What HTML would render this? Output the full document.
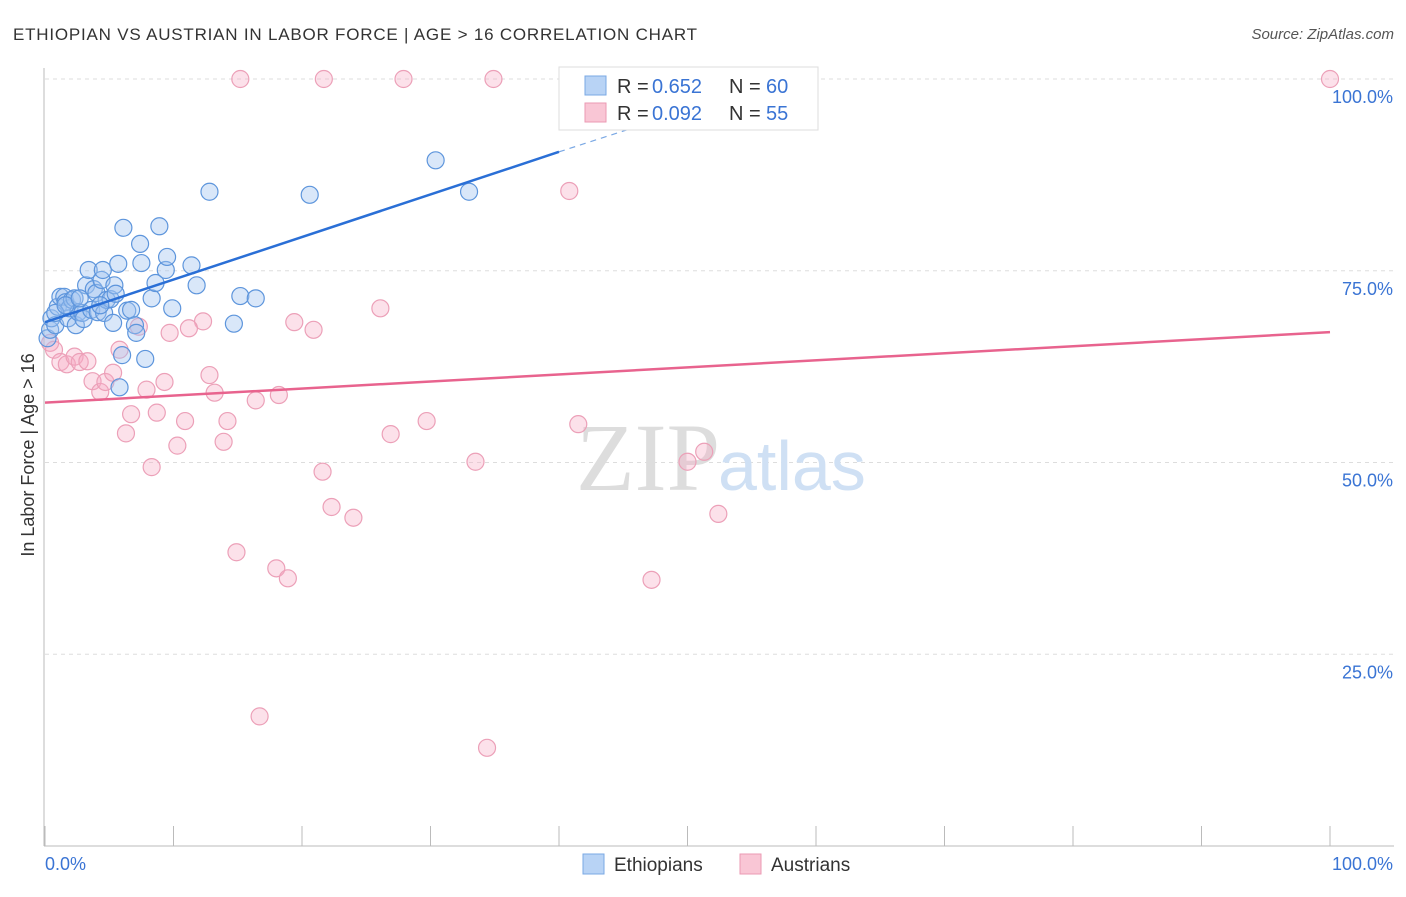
<!DOCTYPE html>
<html><head><meta charset="utf-8"><style>
body{margin:0;background:#fff;font-family:"Liberation Sans",sans-serif;}
</style></head><body>
<svg width="1406" height="892" xmlns="http://www.w3.org/2000/svg">
<text x="13" y="40" font-size="17" fill="#333" textLength="684">ETHIOPIAN VS AUSTRIAN IN LABOR FORCE | AGE &gt; 16 CORRELATION CHART</text>
<text x="1394" y="39" font-size="15" fill="#555" text-anchor="end" font-style="italic">Source: ZipAtlas.com</text>
<g id="grid"></g>
<text x="720" y="490" font-size="96" fill="#ddd" text-anchor="end" font-family="Liberation Serif,serif">ZIP</text>
<text x="718" y="490" font-size="70" fill="#cfe0f4">atlas</text>
<g id="pts"></g>
<g id="lines"></g>
<text transform="translate(34,455) rotate(-90)" font-size="18" fill="#333" text-anchor="middle">In Labor Force | Age &gt; 16</text>
<text x="45" y="870" font-size="18" fill="#3a74d4">0.0%</text>
<text x="1393" y="870" font-size="18" fill="#3a74d4" text-anchor="end">100.0%</text>
<g>
<rect x="559" y="67" width="259" height="63" fill="#fff" stroke="#ddd"/>
<rect x="585" y="76" width="21" height="19" fill="#b8d3f5" stroke="#7aa8e4"/>
<rect x="585" y="103" width="21" height="19" fill="#f9c6d5" stroke="#eb9ab3"/>
<text x="617" y="93" font-size="20" fill="#333">R =</text>
<text x="652" y="93" font-size="20" fill="#3a74d4">0.652</text>
<text x="729" y="93" font-size="20" fill="#333">N =</text>
<text x="766" y="93" font-size="20" fill="#3a74d4">60</text>
<text x="617" y="120" font-size="20" fill="#333">R =</text>
<text x="652" y="120" font-size="20" fill="#3a74d4">0.092</text>
<text x="729" y="120" font-size="20" fill="#333">N =</text>
<text x="766" y="120" font-size="20" fill="#3a74d4">55</text>
</g>
<g>
<rect x="583" y="854" width="21" height="20" fill="#b8d3f5" stroke="#7aa8e4"/>
<text x="614" y="871" font-size="19" fill="#333">Ethiopians</text>
<rect x="740" y="854" width="21" height="20" fill="#f9c6d5" stroke="#eb9ab3"/>
<text x="771" y="871" font-size="19" fill="#333">Austrians</text>
</g>
</svg>
<script>
const yTicks=[25,50,75,100];
const yTickLabels=["25.0%","50.0%","75.0%","100.0%"];
const ethX=[0.2,0.4,0.5,0.8,1.0,1.2,1.5,1.6,1.8,1.9,2.1,2.3,2.4,2.6,2.9,3.0,3.2,3.4,3.6,3.8,4.0,4.1,4.4,4.5,4.6,4.8,5.1,5.3,5.4,5.5,5.7,5.8,6.0,6.1,6.4,6.7,7.0,7.1,7.4,7.5,7.8,8.3,8.6,8.9,9.4,9.5,9.9,11.4,11.8,12.8,14.7,15.2,16.4,20.6,30.4,33.0,0.8,1.6,2.7,4.3];
const ethY=[66.2,67.3,68.8,67.9,70.3,71.6,71.6,70.9,68.8,70.1,71.2,71.4,67.9,69.6,69.5,68.7,73.1,75.1,69.9,72.6,72.1,69.6,73.8,75.1,69.5,71.2,71.3,68.2,73.1,72.0,75.9,59.8,64.0,80.6,69.8,69.9,67.9,66.9,78.5,76.0,63.5,71.4,73.4,80.8,75.1,76.8,70.1,75.7,73.1,85.3,68.1,71.7,71.4,84.9,89.4,85.3,69.5,70.5,71.4,70.5];
const ausX=[15.2,21.7,27.9,34.9,100,40.8,26.1,19.4,20.9,12.3,11.2,9.7,7.3,0.4,0.7,1.2,1.7,2.3,2.7,3.3,3.7,4.3,4.7,5.3,5.8,7.9,9.3,12.8,13.2,16.4,18.2,6.7,8.7,10.9,14.2,6.3,13.9,10.3,8.3,26.9,29.7,41.5,33.5,21.6,51.3,50.0,22.3,24.0,52.4,14.9,18.0,18.9,47.2,16.7,34.4];
const ausY=[100,100,100,100,100,85.4,70.1,68.3,67.3,68.4,67.5,66.9,67.7,65.6,64.7,63.1,62.8,63.8,63.1,63.2,60.6,59.2,60.5,61.7,64.7,59.5,60.5,61.4,59.1,58.1,58.8,56.3,56.5,55.4,55.4,53.8,52.7,52.2,49.4,53.7,55.4,55.0,50.1,48.8,51.4,50.1,44.2,42.8,43.3,38.3,36.2,34.9,34.7,16.9,12.8];
const ethLine=[[0,68.3],[40,90.5]];
const ethDash=[[40,90.5],[50.5,96.2]];
const ausLine=[[0,57.8],[100,67.0]];
const xTicks=[0,10,20,30,40,50,60,70,80,90,100];
const NS='http://www.w3.org/2000/svg';
const X=v=>45+v*12.85, Y=v=>846-v*7.67;
function mk(t,a,p){const e=document.createElementNS(NS,t);for(const k in a)e.setAttribute(k,a[k]);p.appendChild(e);return e;}
const grid=document.getElementById('grid');
let ax=mk('line',{x1:44,y1:68,x2:44,y2:846,stroke:'#bbb'},grid);


let bx=mk('line',{x1:44,y1:846,x2:1394,y2:846,stroke:'#bbb'},grid);


yTicks.forEach((t,i)=>{
 const g=mk('line',{x1:45,x2:1394,y1:Y(t),y2:Y(t),stroke:'#ddd','stroke-dasharray':'4,4'},grid);
 
 
 const tx=mk('text',{x:1393,y:Y(t)+24,'font-size':18,fill:'#3a74d4','text-anchor':'end'},grid);
 tx.textContent=yTickLabels[i];
 
 
});
xTicks.forEach(t=>{
 const l=mk('line',{x1:X(t),x2:X(t),y1:826,y2:846,stroke:'#bbb'},grid);
 
 
});
const pts=document.getElementById('pts');
ausX.forEach((x,i)=>{
 const c=mk('circle',{cx:X(x),cy:Y(ausY[i]),r:8.5,fill:'rgba(246,170,195,0.35)',stroke:'#eca0b8','stroke-width':1.2},pts);
 
 
});
ethX.forEach((x,i)=>{
 const c=mk('circle',{cx:X(x),cy:Y(ethY[i]),r:8.5,fill:'rgba(160,195,240,0.4)',stroke:'#5d95dc','stroke-width':1.2},pts);
 
 
});
const L=document.getElementById('lines');
let l1=mk('line',{x1:X(ethLine[0][0]),y1:Y(ethLine[0][1]),x2:X(ethLine[1][0]),y2:Y(ethLine[1][1]),stroke:'#2a6fd6','stroke-width':2.5},L);


let l2=mk('line',{x1:X(ethDash[0][0]),y1:Y(ethDash[0][1]),x2:X(ethDash[1][0]),y2:Y(ethDash[1][1]),stroke:'#7aa8e4','stroke-width':1.2,'stroke-dasharray':'6,5'},L);


let l3=mk('line',{x1:X(ausLine[0][0]),y1:Y(ausLine[0][1]),x2:X(ausLine[1][0]),y2:Y(ausLine[1][1]),stroke:'#e8638e','stroke-width':2.5},L);


</script>
</body></html>
